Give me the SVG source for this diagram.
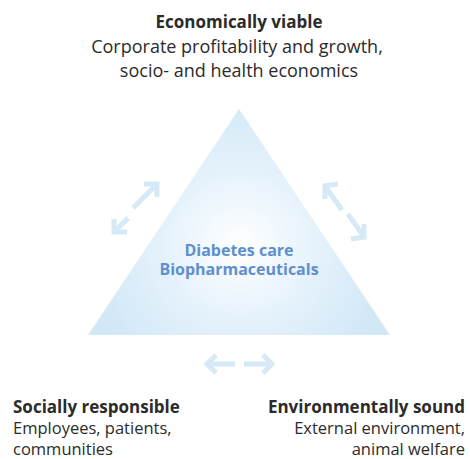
<svg xmlns="http://www.w3.org/2000/svg" width="470" height="459" viewBox="0 0 470 459">
<style>
.t{font-family:"Open Sans","Liberation Sans",sans-serif;fill:#2b2b2b;font-size:16.5px}
.top{font-size:18px}
.b{font-weight:bold;font-size:17px}
.c{font-family:"Open Sans","Liberation Sans",sans-serif;font-weight:bold;fill:#5e8fcd;font-size:16px;text-anchor:middle}
.a{fill:none;stroke:#d5e9f7;stroke-width:5}
</style>
<defs>
<radialGradient id="g" cx="240" cy="245" r="150" gradientUnits="userSpaceOnUse">
<stop offset="0" stop-color="#ffffff"/>
<stop offset="0.55" stop-color="#e3f1fb"/>
<stop offset="1" stop-color="#d2e8f7"/>
</radialGradient>
</defs>
<g id="center">
<polygon points="239,109 390,335 88,335" fill="url(#g)"/>
<text class="c" x="239" y="256">Diabetes care</text>
<text class="c" x="239" y="275">Biopharmaceuticals</text>
</g>
<g id="economic">
<text class="t b" x="239" y="28" text-anchor="middle">Economically viable</text>
<text class="t top" x="237" y="53" text-anchor="middle">Corporate profitability and growth,</text>
<text class="t top" x="239" y="77" text-anchor="middle">socio- and health economics</text>
</g>
<g id="social">
<text class="t b" x="13" y="413">Socially responsible</text>
<text class="t" x="13" y="434">Employees, patients,</text>
<text class="t" x="13" y="455">communities</text>
</g>
<g id="environmental">
<text class="t b" x="465" y="413" text-anchor="end">Environmentally sound</text>
<text class="t" x="465" y="434" text-anchor="end">External environment,</text>
<text class="t" x="465" y="455" text-anchor="end">animal welfare</text>
</g>
<g id="connectors">
<path class="a" d="M157,184 L133,208 M144,184 L157,184 L157,197"/>
<path class="a" d="M114,232 L128,218 M114,219 L114,232 L127,232"/>
<path class="a" d="M325,186 L342,210 M325,199 L325,186 L338,184"/>
<path class="a" d="M364,237 L348,214 M364,224 L364,237 L351,239"/>
<path class="a" d="M207,364 L235,364 M216,355 L207,364 L216,373"/>
<path class="a" d="M272,364 L244,364 M263,355 L272,364 L263,373"/>
</g>
</svg>
